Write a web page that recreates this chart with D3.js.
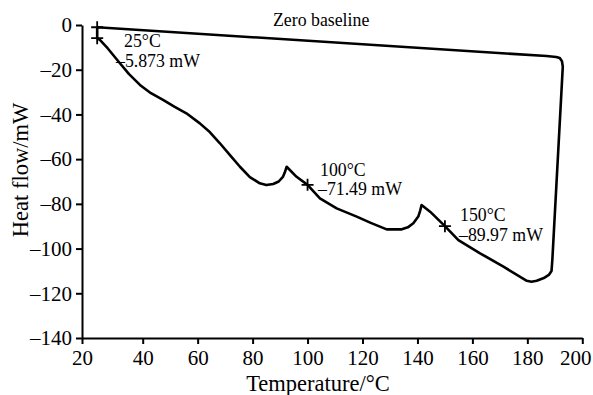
<!DOCTYPE html>
<html>
<head>
<meta charset="utf-8">
<script src="https://cdn.jsdelivr.net/npm/d3@7"></script>
<style>
  body { margin: 0; background: #fff; }
  svg text { font-family: "Liberation Serif", "Times New Roman", serif; fill: #000; }
</style>
</head>
<body>
<div id="chart"></div>
<script>
// DSC trace: heating run, return to start, then the zero baseline
const curveT = [25, 25, 25.9, 28.5, 32.5, 35.5, 39.1, 43, 47.4, 51.5, 55.9, 60.8, 64.5, 68.1, 72, 75.4, 79, 82.6, 85, 87.5, 89.5, 91.1, 91.7, 92.4,
  96.0, 100, 104.5, 110.6, 117.9, 123, 128.8, 134.3, 136.5, 138.5, 140.3, 141.0, 141.5,
  144.6, 150, 154.9, 162.8, 171.3, 179.8, 181.5, 183.4, 186, 187.8, 188.8, 189.1, 192.9,
  192.6, 191.8, 190.5, 187, 25];
const curveHF = [-1.0, -5.873, -6.7, -10.5, -17.1, -22, -26.8, -30.5, -33.5, -36.5, -39.5, -44, -48, -52.9, -58.5, -63.4, -68, -70.8, -71.6, -71.1, -70, -67.8, -66, -63.4,
  -67.9, -71.49, -77.5, -82, -85.7, -88.5, -91.4, -91.4, -90.5, -88.7, -85.7, -83, -80.5,
  -83.5, -89.97, -96.2, -102.1, -108.1, -114.4, -114.8, -114.4, -113.2, -111.8, -110, -105, -18.6,
  -16.2, -14.8, -14.3, -13.9, -1.0];

// marked points
const markT = [25, 25, 100, 150];
const markHF = [-1.0, -5.873, -71.49, -89.97];

// annotations
const noteLabels = [["25°C", "–5.873 mW"], ["100°C", "–71.49 mW"], ["150°C", "–89.97 mW"]];

const xTicks = [20, 40, 60, 80, 100, 120, 140, 160, 180, 200];
const yTicks = [0, -20, -40, -60, -80, -100, -120, -140];

const width = 593, height = 395;
const svg = d3.select('#chart').append('svg')
  .attr('width', width)
  .attr('height', height);

// the original axis puts 20 a little further from 40 than the other steps
const x = d3.scaleLinear().domain([20, 40, 200]).range([82, 142.7, 582.3]);
const y = d3.scaleLinear().domain([-140, 0]).range([338, 25]);

const fmt = d => d < 0 ? '\u2013' + Math.abs(d) : String(d);

const xAxis = svg.append('g')
  .attr('transform', `translate(0,${y(-140)})`)
  .call(d3.axisBottom(x).tickValues(xTicks).tickFormat(fmt).tickSize(6).tickSizeOuter(0).tickPadding(6));
const yAxis = svg.append('g')
  .attr('transform', `translate(${x(20)},0)`)
  .call(d3.axisLeft(y).tickValues(yTicks).tickFormat(fmt).tickSize(6).tickSizeOuter(0).tickPadding(4));

[xAxis, yAxis].forEach(g => {
  g.attr('font-family', null).attr('font-size', null);
  g.select('.domain').attr('stroke', '#000').attr('stroke-width', 2);
  g.selectAll('.tick line').attr('stroke', '#000').attr('stroke-width', 2);
  g.selectAll('.tick text').attr('fill', '#000').attr('font-size', 21);
});
// keep the last label inside the frame, as in the reference
xAxis.selectAll('.tick text').filter(d => d === 200).attr('dx', -7);

// axis titles
svg.append('text')
  .attr('x', 318).attr('y', 391)
  .attr('text-anchor', 'middle')
  .attr('font-size', 22.5)
  .text('Temperature/°C');
svg.append('text')
  .attr('transform', 'translate(28,170) rotate(-90)')
  .attr('text-anchor', 'middle')
  .attr('font-size', 22.5)
  .text('Heat flow/mW');

// trace
const pts = curveT.map((t, i) => [t, curveHF[i]]);
const line = d3.line().x(d => x(d[0])).y(d => y(d[1])).curve(d3.curveLinear);
svg.append('path')
  .datum(pts)
  .attr('d', line)
  .attr('fill', 'none')
  .attr('stroke', '#000')
  .attr('stroke-width', 2.6)
  .attr('stroke-linejoin', 'round');

// cross markers
const cs = 6;
svg.append('g').selectAll('path')
  .data(markT.map((t, i) => [t, markHF[i]]))
  .join('path')
  .attr('d', d => {
    const px = x(d[0]), py = y(d[1]);
    return `M${px - cs},${py}H${px + cs}M${px},${py - cs}V${py + cs}`;
  })
  .attr('stroke', '#000')
  .attr('stroke-width', 1.8);

// annotations
const notePos = [[124, 47, 116, 67], [320, 176, 318, 195], [460, 221, 459, 241]];
noteLabels.forEach((lab, i) => {
  const p = notePos[i];
  svg.append('text').attr('x', p[0]).attr('y', p[1]).attr('font-size', 17.8).text(lab[0]);
  svg.append('text').attr('x', p[2]).attr('y', p[3]).attr('font-size', 17.8).text(lab[1]);
});
svg.append('text')
  .attr('x', 273).attr('y', 26)
  .attr('font-size', 17.8)
  .text('Zero baseline');
</script>
</body>
</html>
